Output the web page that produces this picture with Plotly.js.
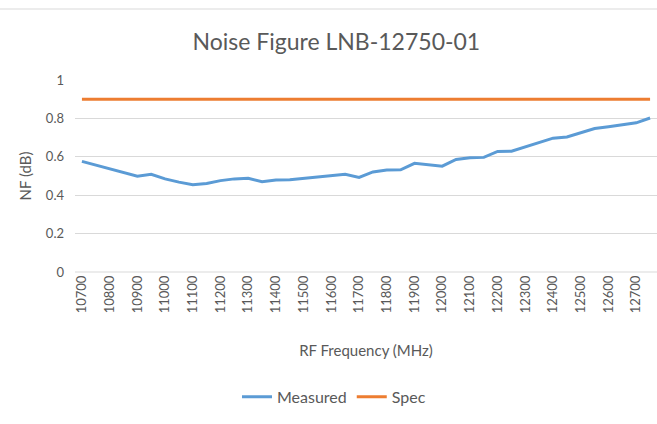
<!DOCTYPE html>
<html>
<head>
<meta charset="utf-8">
<script src="https://cdn.plot.ly/plotly-3.0.1.min.js"></script>
<style>html,body{margin:0;padding:0;background:#fff;}#chart{width:657px;height:424px;}</style>
</head>
<body>
<div id="chart"></div>
<script>
const freqs = [10700,10750,10800,10850,10900,10950,11000,11050,11100,11150,11200,11250,11300,11350,11400,11450,11500,11550,11600,11650,11700,11750,11800,11850,11900,11950,12000,12050,12100,12150,12200,12250,12300,12350,12400,12450,12500,12550,12600,12650,12700,12750];
const measured = [0.576,0.557,0.537,0.517,0.499,0.509,0.485,0.468,0.455,0.461,0.476,0.485,0.488,0.470,0.479,0.481,0.488,0.495,0.502,0.509,0.493,0.521,0.531,0.532,0.566,0.558,0.551,0.586,0.595,0.597,0.628,0.629,0.652,0.676,0.697,0.703,0.726,0.747,0.756,0.768,0.777,0.802];
const spec = freqs.map(() => 0.9);
const tickLabels = ["10700","10800","10900","11000","11100","11200","11300","11400","11500","11600","11700","11800","11900","12000","12100","12200","12300","12400","12500","12600","12700"];
const tickVals = tickLabels.map(Number);

const font = "Lato, 'Open Sans', sans-serif";
const grey = "#595959";

const traces = [
  {x: freqs, y: measured, name: "Measured", type: "scatter", mode: "lines",
   line: {color: "#5b9bd5", width: 3}},
  {x: freqs, y: spec, name: "Spec", type: "scatter", mode: "lines",
   line: {color: "#ed7d31", width: 3}}
];

const layout = {
  width: 657, height: 424,
  margin: {l: 75, r: 0, t: 80, b: 152},
  paper_bgcolor: "#fff", plot_bgcolor: "#fff",
  font: {family: font, color: grey, size: 12},
  title: {text: "Noise Figure LNB-12750-01", font: {family: font, size: 23, color: grey},
          x: 0.512, xanchor: "center", xref: "container", y: 0.9, yref: "container", yanchor: "middle"},
  xaxis: {
    range: [10675, 12775], tickmode: "array", tickvals: tickVals, ticktext: tickLabels,
    tickangle: -90, showgrid: false, zeroline: false, showline: false, ticks: "",
    tickfont: {size: 13, color: grey},
    title: {text: "RF Frequency (MHz)", font: {size: 15, color: grey}, standoff: 33}
  },
  yaxis: {
    range: [0, 1], dtick: 0.2, showgrid: true, gridcolor: "#d9d9d9", gridwidth: 1,
    zeroline: false, showline: false, ticks: "", ticklabelstandoff: 10,
    tickfont: {size: 13, color: grey},
    title: {text: "NF (dB)", font: {size: 15, color: grey}, standoff: 10}
  },
  shapes: [
    {type: "line", xref: "paper", yref: "paper", x0: 0, x1: 1, y0: 0, y1: 0,
     line: {color: "#d9d9d9", width: 1}, layer: "below"},
    {type: "line", xref: "paper", yref: "paper", x0: -75/582, x1: 1, y0: (272-9)/192, y1: (272-9)/192,
     line: {color: "#d9d9d9", width: 1}, layer: "below"}
  ],
  showlegend: true,
  legend: {orientation: "h", x: 0.445, xanchor: "center", y: -0.65, yanchor: "middle",
           font: {size: 16, color: grey}, tracegroupgap: 0}
};

Plotly.newPlot("chart", traces, layout, {displayModeBar: false, staticPlot: true});
</script>
</body>
</html>
